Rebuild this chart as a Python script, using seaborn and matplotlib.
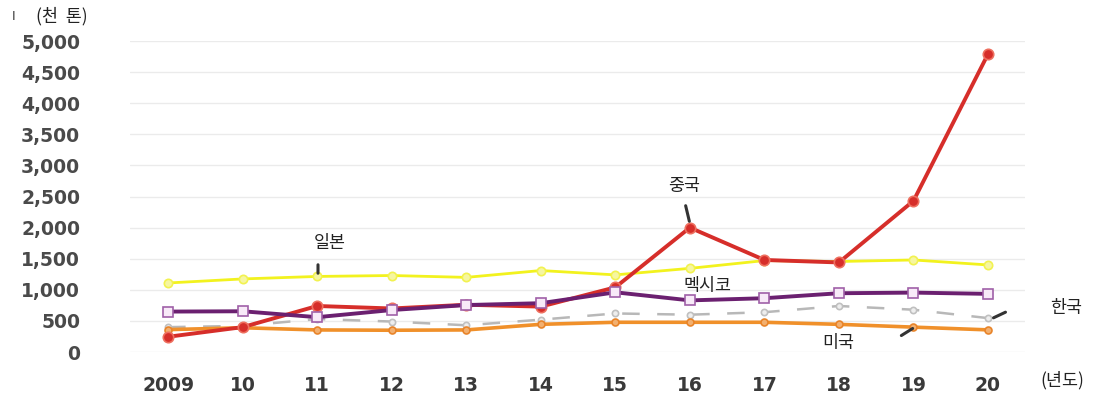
import matplotlib
matplotlib.use("Agg")
import matplotlib.pyplot as plt
import seaborn as sns
import pandas as pd

# Annual volumes, thousand tonnes
years = [2009, 2010, 2011, 2012, 2013, 2014, 2015, 2016, 2017, 2018, 2019, 2020]
year_labels = ["2009", "10", "11", "12", "13", "14", "15", "16", "17", "18", "19", "20"]
china = [245, 400, 740, 700, 760, 730, 1040, 2000, 1480, 1440, 2430, 4790]
japan = [1110, 1175, 1215, 1230, 1200, 1310, 1240, 1345, 1470, 1455, 1480, 1400]
mexico = [650, 655, 560, 675, 755, 785, 960, 830, 865, 945, 955, 935]
korea = [400, 420, 530, 490, 430, 520, 620, 600, 640, 740, 680, 545]
usa = [360, 390, 355, 350, 355, 445, 478, 478, 478, 445, 400, 356]
y_ticks = [0, 500, 1000, 1500, 2000, 2500, 3000, 3500, 4000, 4500, 5000]

sns.set_theme(style="white")
plt.rcParams["font.family"] = ["Noto Sans CJK KR", "DejaVu Sans"]

fig = plt.figure(figsize=(11.12, 3.93), dpi=100)
ax = fig.add_axes([0.117, 0.1043, 0.805, 0.7913])

series = [
    # name, values, colour, width, marker, marker size, face, edge, dashes
    ("한국", korea, "#b8b8b8", 1.8, "o", 4.5, "#eeeeee", "#c0c0c0", (7, 7)),
    ("미국", usa, "#f0902a", 2.6, "o", 5, "#f2b070", "#e8842a", None),
    ("일본", japan, "#f2f21e", 2.0, "o", 6, "#f6f6a0", "#f2f250", None),
    ("중국", china, "#d62e2a", 2.8, "o", 7.5, "#d62e2a", "#ee7060", None),
    ("멕시코", mexico, "#6b2070", 2.8, "s", 6.5, "#f8eaf8", "#a060a8", None),
]

for name, vals, color, lw, mk, ms, fc, ec, dash in series:
    df = pd.DataFrame({"year": years, "value": vals})
    sns.lineplot(data=df, x="year", y="value", ax=ax, color=color, linewidth=lw,
                 marker=mk, markersize=ms, markerfacecolor=fc, markeredgecolor=ec,
                 markeredgewidth=1.2, clip_on=False)
    if dash is not None:
        ax.lines[-1].set_dashes(dash)

ax.set_xlim(2008.49, 2020.5)
ax.set_ylim(0, 5000)
ax.set_yticks(y_ticks)
ax.set_yticklabels([f"{v:,}" for v in y_ticks], fontsize=13.5, fontweight="bold",
                   color="#4a4a4a", family="DejaVu Sans")
ax.set_xticks(years)
ax.set_xticklabels(year_labels, fontsize=13.5, fontweight="bold",
                   color="#3a3a3a", family="DejaVu Sans")
ax.tick_params(axis="y", length=0, pad=36)
ax.tick_params(axis="x", length=0, pad=17)
ax.set_xlabel("")
ax.set_ylabel("")
ax.grid(axis="y", color="#ebebeb", linewidth=1.0)
ax.set_axisbelow(True)
for s in ax.spines.values():
    s.set_visible(False)

# Units
fig.text(12 / 1112, 1 - 16 / 393, "I", fontsize=9, color="#333333", va="center", ha="left")
fig.text(36 / 1112, 1 - 16 / 393, "(천  톤)", fontsize=12.5, color="#222222", va="center", ha="left")
fig.text(1040 / 1112, 1 - 380 / 393, "(년도)", fontsize=12.5, color="#222222", va="center", ha="left")

# Series labels with leader lines
def label(text, xy_text, p0, p1):
    ax.annotate(text, xy=p1, xytext=xy_text, xycoords="figure pixels",
                textcoords="figure pixels", fontsize=12.5, color="#222222",
                ha="center", va="center")
    ax.annotate("", xy=p1, xytext=p0, xycoords="figure pixels", textcoords="figure pixels",
                arrowprops=dict(arrowstyle="-", color="#333333", lw=2.2))

H = 393
label("일본", (330, H - 243), (318, H - 262), (318, H - 276))
label("중국", (684, H - 186), (685, H - 203), (690, H - 224))
ax.annotate("멕시코", xy=(707, H - 286), xycoords="figure pixels", fontsize=12.5,
            color="#222222", ha="center", va="center")
label("한국", (1066, H - 308), (1008, H - 311), (991, H - 319))
label("미국", (838, H - 343), (899, H - 337), (915, H - 327))

fig.savefig("out.png", dpi=100, facecolor="white")
